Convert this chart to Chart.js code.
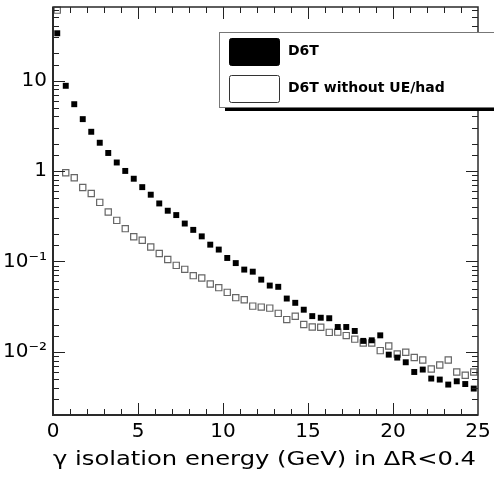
<!DOCTYPE html>
<html>
<head>
<meta charset="utf-8">
<script src="https://cdn.jsdelivr.net/npm/chart.js@4/dist/chart.umd.min.js"></script>
<style>
  body { margin: 0; background: #fff; }
  #wrap { width: 494px; height: 479px; }
</style>
</head>
<body>
<div id="wrap"><canvas id="isoChart" width="494" height="479"></canvas></div>
<script>
// bin centres (GeV), 0.5 GeV bins
const binCenters = [
  0.25, 0.75, 1.25, 1.75, 2.25, 2.75, 3.25, 3.75, 4.25, 4.75,
  5.25, 5.75, 6.25, 6.75, 7.25, 7.75, 8.25, 8.75, 9.25, 9.75,
  10.25, 10.75, 11.25, 11.75, 12.25, 12.75, 13.25, 13.75, 14.25, 14.75,
  15.25, 15.75, 16.25, 16.75, 17.25, 17.75, 18.25, 18.75, 19.25, 19.75,
  20.25, 20.75, 21.25, 21.75, 22.25, 22.75, 23.25, 23.75, 24.25, 24.75
];

const d6t = [
  33.3, 8.74, 5.47, 3.74, 2.71, 2.05, 1.58, 1.24, 1.0, 0.82,
  0.662, 0.546, 0.437, 0.363, 0.325, 0.262, 0.223, 0.189, 0.153, 0.135,
  0.109, 0.0957, 0.0811, 0.0769, 0.0628, 0.054, 0.0523, 0.0388, 0.0348, 0.0292,
  0.0248, 0.0238, 0.0235, 0.0188, 0.0188, 0.017, 0.0132, 0.0134, 0.0152, 0.0093,
  0.00863, 0.00766, 0.00598, 0.00636, 0.00506, 0.00493, 0.00434, 0.00472, 0.0044, 0.00392
];

const d6tNoUE = [
  60, 0.955, 0.841, 0.657, 0.564, 0.449, 0.351, 0.284, 0.23, 0.187,
  0.171, 0.144, 0.122, 0.105, 0.0903, 0.0816, 0.0695, 0.0654, 0.0561, 0.0512,
  0.0454, 0.0397, 0.0377, 0.032, 0.0312, 0.0304, 0.0266, 0.0227, 0.0247, 0.02,
  0.0188, 0.0187, 0.0164, 0.0165, 0.0151, 0.0138, 0.0125, 0.0125, 0.0103, 0.0116,
  0.00946, 0.00987, 0.00863, 0.00811, 0.00646, 0.00714, 0.00811, 0.00598, 0.0055, 0.00598
];

const seriesNames = ['D6T', 'D6T without UE/had'];
const xTickLabels = [0, 5, 10, 15, 20, 25];
const yTickValues = [10, 1, 0.1, 0.01];
const yTickLabels = ['10', '1', '10\u207B\u00B9', '10\u207B\u00B2'];
const xTitle = '\u03B3 isolation energy (GeV) in \u0394R<0.4';

const toPoints = vals => vals.map((v, i) => ({ x: binCenters[i], y: v }));

function yLabelFor(v) {
  const idx = yTickValues.findIndex(t => Math.abs(Math.log10(t) - Math.log10(v)) < 1e-6);
  return idx >= 0 ? yTickLabels[idx] : '';
}

// ROOT-like frame with inward ticks on all four sides, the boxed legend and the axis title
const rootStyle = {
  id: 'rootStyle',
  afterDraw(chart) {
    const ctx = chart.ctx;
    const a = chart.chartArea;
    const xs = chart.scales.x, ys = chart.scales.y;
    ctx.save();

    // ticks, taken from the chart's own scales
    ctx.fillStyle = '#222';
    ys.getTicks().forEach(t => {
      const v = t.value;
      if (!(v > ys.min && v < ys.max)) return;
      const y = Math.round(ys.getPixelForValue(v));
      const len = yLabelFor(v) ? 12 : 6;
      ctx.fillRect(a.left, y, len, 1);
      ctx.fillRect(a.right - len, y, len, 1);
    });
    xs.getTicks().forEach(t => {
      const v = t.value;
      if (!(v > xs.min && v < xs.max)) return;
      const x = Math.round(xs.getPixelForValue(v));
      const len = xTickLabels.includes(v) ? 12 : 6;
      ctx.fillRect(x, a.bottom - len, 1, len);
      ctx.fillRect(x, a.top, 1, len);
    });

    // frame
    ctx.strokeStyle = '#2a2a2a';
    ctx.lineWidth = 1.5;
    ctx.strokeRect(a.left, a.top, a.right - a.left, a.bottom - a.top);
    ctx.lineWidth = 2;
    ctx.beginPath();
    ctx.moveTo(a.left, a.top); ctx.lineTo(a.left, a.bottom); ctx.lineTo(a.right, a.bottom);
    ctx.stroke();

    // legend box with shadow
    const lx = 219, ly = 32, lw = 300, lh = 75;
    ctx.fillStyle = '#000';
    ctx.fillRect(lx + 6, ly + lh, lw, 4);
    ctx.fillStyle = '#fff';
    ctx.fillRect(lx, ly, lw, lh);
    ctx.strokeStyle = '#777';
    ctx.lineWidth = 1;
    ctx.strokeRect(lx + 0.5, ly + 0.5, lw, lh);

    const ds = chart.data.datasets;
    ctx.font = 'bold 14px "DejaVu Sans"';
    ctx.textBaseline = 'middle';
    ctx.textAlign = 'left';
    [[38, 27], [75, 27]].forEach(([top, h], i) => {
      ctx.beginPath();
      ctx.roundRect(229.5, top + 0.5, 50, h, 2);
      ctx.fillStyle = ds[i].backgroundColor;
      ctx.fill();
      ctx.strokeStyle = i === 0 ? '#000' : '#333';
      ctx.lineWidth = 1;
      ctx.stroke();
      ctx.fillStyle = '#000';
      ctx.fillText(ds[i].label, 288, top + h / 2);
    });

    // x axis title, stretched like the original
    ctx.font = '20px "DejaVu Sans"';
    ctx.textBaseline = 'alphabetic';
    const w = ctx.measureText(xTitle).width;
    const target = 423;
    ctx.translate(264.5 - target / 2, 465);
    ctx.scale(target / w, 1);
    ctx.fillStyle = '#000';
    ctx.fillText(xTitle, 0, 0);
    ctx.restore();
  }
};

new Chart(document.getElementById('isoChart'), {
  type: 'scatter',
  data: {
    datasets: [
      {
        label: seriesNames[0],
        data: toPoints(d6t),
        pointStyle: 'rect',
        pointRadius: 4.2,
        backgroundColor: '#000',
        borderColor: '#000',
        borderWidth: 0,
        clip: 8
      },
      {
        label: seriesNames[1],
        data: toPoints(d6tNoUE),
        pointStyle: 'rect',
        pointRadius: 4.4,
        backgroundColor: '#fff',
        borderColor: '#666',
        borderWidth: 1.2,
        clip: 8
      }
    ]
  },
  options: {
    responsive: false,
    animation: false,
    events: [],
    layout: { padding: { left: 0, right: 16, top: 7, bottom: 0 } },
    plugins: { legend: { display: false }, tooltip: { enabled: false } },
    scales: {
      x: {
        type: 'linear',
        min: 0,
        max: 25,
        grid: { display: false, drawTicks: false },
        border: { display: false },
        ticks: {
          stepSize: 1,
          autoSkip: false,
          maxRotation: 0,
          padding: 5,
          color: '#000',
          font: { family: 'DejaVu Sans', size: 20 },
          callback: v => xTickLabels.includes(v) ? String(v) : ''
        },
        afterFit: s => { s.height = 64; s.paddingLeft = 0; s.paddingRight = 0; }
      },
      y: {
        type: 'logarithmic',
        min: 0.002,
        max: 65,
        grid: { display: false, drawTicks: false },
        border: { display: false },
        ticks: {
          autoSkip: false,
          padding: 6,
          color: '#000',
          font: { family: 'DejaVu Sans', size: 20 },
          callback: v => yLabelFor(v)
        },
        afterFit: s => { s.width = 53; s.paddingTop = 0; s.paddingBottom = 0; }
      }
    }
  },
  plugins: [rootStyle]
});
</script>
</body>
</html>
